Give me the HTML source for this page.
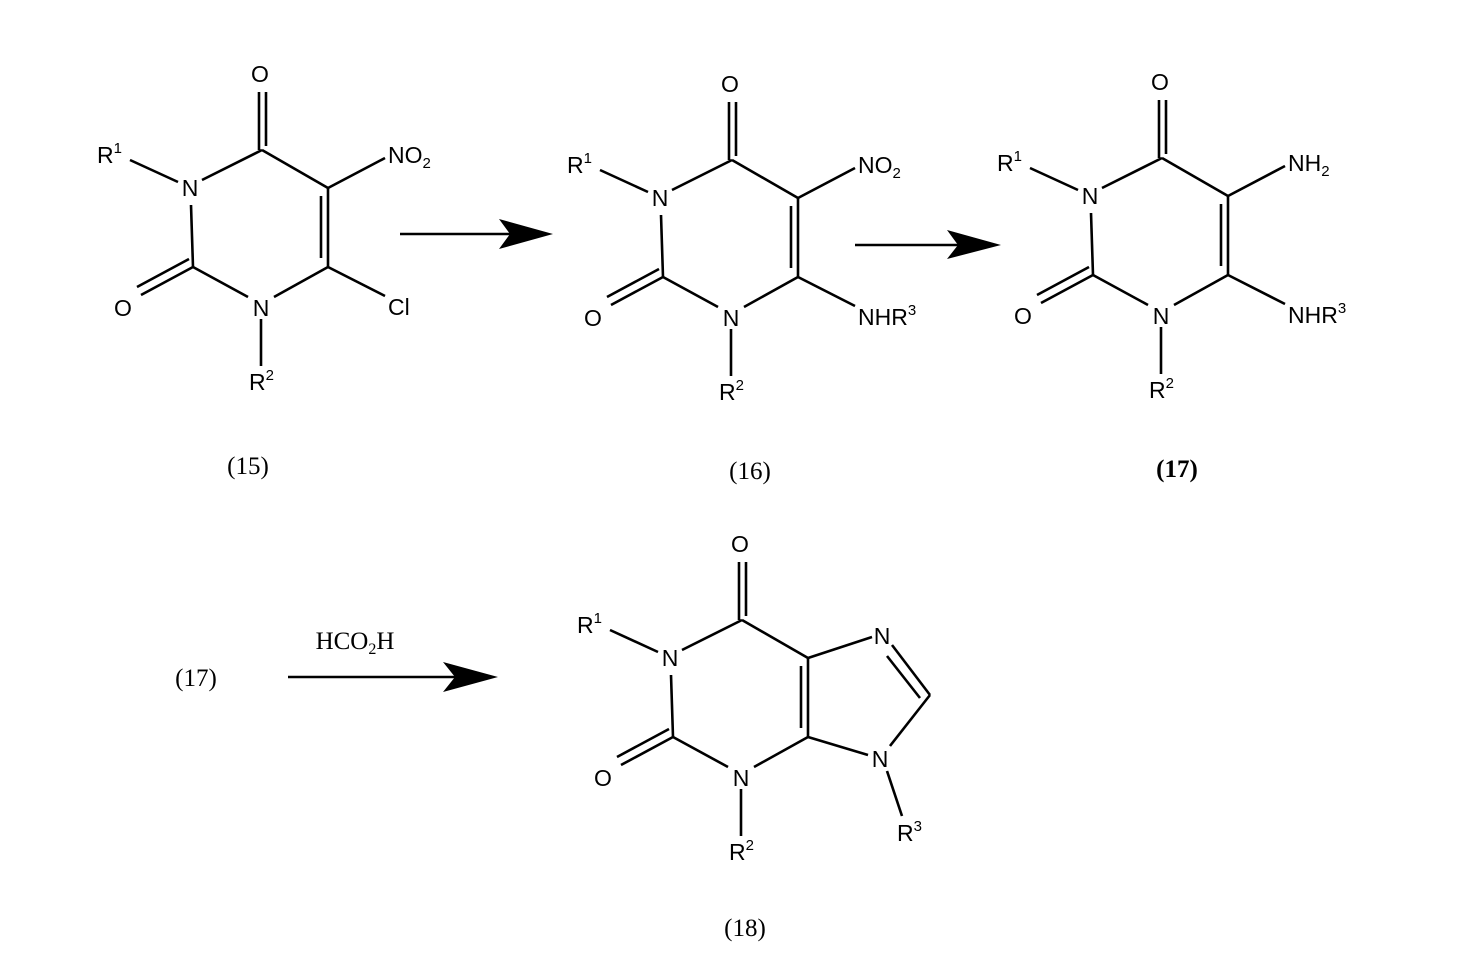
<!DOCTYPE html>
<html><head><meta charset="utf-8"><style>
html,body{margin:0;padding:0;background:#fff;}
svg{display:block;}
.s{font-family:"Liberation Sans",sans-serif;font-size:23px;fill:#000;}
.sup{font-size:15px;}
.t{font-family:"Liberation Serif",serif;font-size:25px;fill:#000;}
line,polyline{stroke:#000;stroke-width:2.6;fill:none;}
</style></head><body>
<svg width="1481" height="975" viewBox="0 0 1481 975" xmlns="http://www.w3.org/2000/svg">
<defs>
<g id="ring">
<line x1="130" y1="160" x2="178" y2="182"/>
<line x1="202" y1="180" x2="262" y2="150"/>
<line x1="259" y1="150" x2="259" y2="92"/>
<line x1="266" y1="146" x2="266" y2="92"/>
<line x1="262" y1="150" x2="328" y2="188"/>
<line x1="328" y1="188" x2="328" y2="267"/>
<line x1="321" y1="196" x2="321" y2="258"/>
<line x1="328" y1="267" x2="274" y2="297"/>
<line x1="248" y1="297" x2="193" y2="267"/>
<line x1="193" y1="267" x2="191" y2="205"/>
<line x1="193" y1="267" x2="141" y2="295"/>
<line x1="189" y1="259" x2="137" y2="287"/>
<line x1="261" y1="319" x2="261" y2="366"/>
</g>
</defs>

<!-- 15 -->
<g>
<use href="#ring"/>
<line x1="328" y1="188" x2="385" y2="158"/>
<line x1="328" y1="267" x2="385" y2="296"/>
<text class="s" x="260" y="82" text-anchor="middle">O</text>
<text class="s" x="97" y="163">R<tspan class="sup" dy="-10">1</tspan></text>
<text class="s" x="190" y="196" text-anchor="middle">N</text>
<text class="s" x="261" y="316" text-anchor="middle">N</text>
<text class="s" x="123" y="316" text-anchor="middle">O</text>
<text class="s" x="388" y="163">NO<tspan class="sup" dy="5">2</tspan></text>
<text class="s" x="388" y="315">Cl</text>
<text class="s" x="249" y="390">R<tspan class="sup" dy="-10">2</tspan></text>
</g>
<text class="t" x="248" y="474" text-anchor="middle">(15)</text>

<!-- arrow 1 -->
<line x1="400" y1="234" x2="510" y2="234"/>
<polygon points="553,234 499,219 510,234 499,249" fill="#000"/>

<!-- 16 -->
<g transform="translate(470,10)">
<use href="#ring"/>
<line x1="328" y1="188" x2="385" y2="158"/>
<line x1="328" y1="267" x2="385" y2="296"/>
<text class="s" x="260" y="82" text-anchor="middle">O</text>
<text class="s" x="97" y="163">R<tspan class="sup" dy="-10">1</tspan></text>
<text class="s" x="190" y="196" text-anchor="middle">N</text>
<text class="s" x="261" y="316" text-anchor="middle">N</text>
<text class="s" x="123" y="316" text-anchor="middle">O</text>
<text class="s" x="388" y="163">NO<tspan class="sup" dy="5">2</tspan></text>
<text class="s" x="388" y="315">NHR<tspan class="sup" dy="-10">3</tspan></text>
<text class="s" x="249" y="390">R<tspan class="sup" dy="-10">2</tspan></text>
</g>
<text class="t" x="750" y="479" text-anchor="middle">(16)</text>

<!-- arrow 2 -->
<line x1="855" y1="245" x2="960" y2="245"/>
<polygon points="1001,245 947,230 958,245 947,259" fill="#000"/>

<!-- 17 -->
<g transform="translate(900,8)">
<use href="#ring"/>
<line x1="328" y1="188" x2="385" y2="158"/>
<line x1="328" y1="267" x2="385" y2="296"/>
<text class="s" x="260" y="82" text-anchor="middle">O</text>
<text class="s" x="97" y="163">R<tspan class="sup" dy="-10">1</tspan></text>
<text class="s" x="190" y="196" text-anchor="middle">N</text>
<text class="s" x="261" y="316" text-anchor="middle">N</text>
<text class="s" x="123" y="316" text-anchor="middle">O</text>
<text class="s" x="388" y="163">NH<tspan class="sup" dy="5">2</tspan></text>
<text class="s" x="388" y="315">NHR<tspan class="sup" dy="-10">3</tspan></text>
<text class="s" x="249" y="390">R<tspan class="sup" dy="-10">2</tspan></text>
</g>
<text class="t" x="1177" y="477" text-anchor="middle" font-weight="bold">(17)</text>

<!-- bottom row -->
<text class="t" x="196" y="686" text-anchor="middle">(17)</text>
<text class="t" x="355" y="649" text-anchor="middle">HCO<tspan font-size="16" dy="5">2</tspan><tspan dy="-5">H</tspan></text>
<line x1="288" y1="677" x2="455" y2="677"/>
<polygon points="498,677 443,662 455,677 443,692" fill="#000"/>

<!-- 18 -->
<g transform="translate(480,470)">
<use href="#ring"/>
<text class="s" x="260" y="82" text-anchor="middle">O</text>
<text class="s" x="97" y="163">R<tspan class="sup" dy="-10">1</tspan></text>
<text class="s" x="190" y="196" text-anchor="middle">N</text>
<text class="s" x="261" y="316" text-anchor="middle">N</text>
<text class="s" x="123" y="316" text-anchor="middle">O</text>
<text class="s" x="249" y="390">R<tspan class="sup" dy="-10">2</tspan></text>
</g>
<line x1="808" y1="658" x2="872" y2="637"/>
<line x1="892" y1="645" x2="930" y2="695"/>
<line x1="887" y1="656" x2="920" y2="698"/>
<line x1="930" y1="695" x2="890" y2="746"/>
<line x1="808" y1="737" x2="868" y2="755"/>
<line x1="887" y1="771" x2="902" y2="816"/>
<text class="s" x="882" y="644" text-anchor="middle">N</text>
<text class="s" x="880" y="767" text-anchor="middle">N</text>
<text class="s" x="897" y="841">R<tspan class="sup" dy="-10">3</tspan></text>
<text class="t" x="745" y="936" text-anchor="middle">(18)</text>
</svg>
</body></html>
